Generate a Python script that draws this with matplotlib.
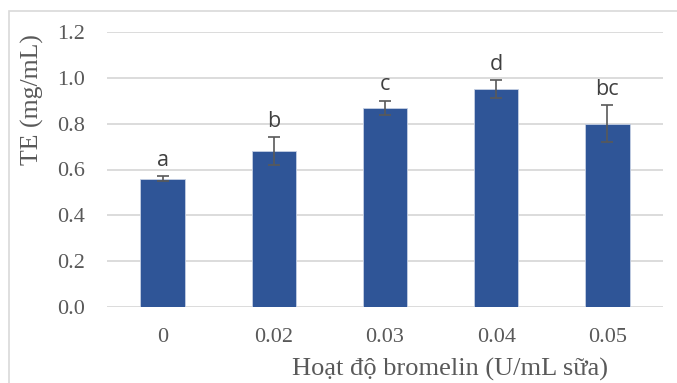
import numpy as np
import matplotlib.pyplot as plt
from matplotlib.patches import Rectangle

# values
categories = ['0', '0.02', '0.03', '0.04', '0.05']
te_values = [0.56, 0.68, 0.87, 0.95, 0.80]
te_errors = [0.01, 0.06, 0.03, 0.04, 0.08]
letters = ['a', 'b', 'c', 'd', 'bc']
y_ticks = [0.0, 0.2, 0.4, 0.6, 0.8, 1.0, 1.2]

W, H = 677, 383
fig = plt.figure(figsize=(W / 100, H / 100), dpi=100)
fig.patch.set_facecolor('white')

# light frame round the chart (cut off at right and bottom)
fig.add_artist(Rectangle((9 / W, -0.1), 1.2, (H - 11) / H + 0.1,
                         transform=fig.transFigure, fill=False,
                         edgecolor='#d9d9d9', lw=1.2))

ax = fig.add_axes([107 / W, 1 - 307 / H, (663 - 107) / W, (307 - 32) / H])

x = np.arange(len(categories))
ax.bar(x, te_values, width=0.4, color='#2f5597', edgecolor='#c5d0e4',
       linewidth=0.6, zorder=3)
ax.errorbar(x, te_values, yerr=te_errors, fmt='none', ecolor='#595959',
            elinewidth=1.2, capsize=4.3, capthick=1.2, zorder=4)

for xi, v, e, lab in zip(x, te_values, te_errors, letters):
    ax.annotate(lab, (xi, v + e), xytext=(0, 7.5), textcoords='offset points',
                ha='center', va='baseline', fontsize=15.5, color='#404040',
                family='Open Sans')

ax.set_xlim(-0.5, len(categories) - 0.5)
ax.set_ylim(0, 1.2)
ax.set_yticks(y_ticks)
ax.set_yticklabels(['%.1f' % t for t in y_ticks])
ax.set_xticks(x)
ax.set_xticklabels(categories)
ax.tick_params(length=0, labelsize=16, labelcolor='#595959')
ax.tick_params(axis='y', pad=16)
ax.tick_params(axis='x', pad=15)
for lab in ax.get_xticklabels() + ax.get_yticklabels():
    lab.set_family('Liberation Serif')

ax.grid(axis='y', color='#d9d9d9', lw=1.3, zorder=0)
ax.set_axisbelow(True)
for s in ax.spines.values():
    s.set_visible(False)

fig.text(32 / W, 1 - 100 / H, 'TE (mg/mL)', rotation=90, ha='center',
         va='center', fontsize=18.5, color='#595959', family='Liberation Serif')
fig.text(450 / W, 1 - 369 / H, 'Hoạt độ bromelin (U/mL sữa)', ha='center',
         va='center', fontsize=19, color='#595959', family='Liberation Serif')

fig.savefig('out.png', dpi=100)
